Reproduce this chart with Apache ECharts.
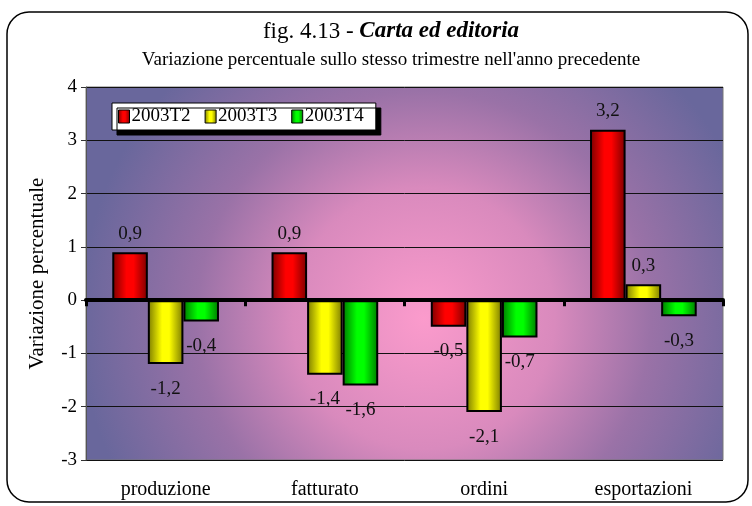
<!DOCTYPE html>
<html>
<head>
<meta charset="utf-8">
<script src="https://cdn.jsdelivr.net/npm/echarts@6/dist/echarts.min.js"></script>
<style>
  html, body { margin: 0; padding: 0; background: #fff; }
  #echarts_id { width: 752px; height: 506px; }
</style>
</head>
<body>
<div id="echarts_id"></div>
<script>
// dati
var categorie = ['produzione', 'fatturato', 'ordini', 'esportazioni'];
var t2 = [0.9, 0.9, -0.5, 3.2];
var t3 = [-1.2, -1.4, -2.1, 0.3];
var t4 = [-0.4, -1.6, -0.7, -0.3];
var nomiSerie = ['2003T2', '2003T3', '2003T4'];

var serif = '"Liberation Serif", serif';

var myChart = echarts.init(document.getElementById('echarts_id'));

function barra(scuro, chiaro) {
    return new echarts.graphic.LinearGradient(0, 0, 1, 0, [
        { offset: 0, color: scuro },
        { offset: 0.4, color: chiaro },
        { offset: 0.6, color: chiaro },
        { offset: 1, color: scuro }
    ]);
}

function etichetta(p) {
    return p.value.toFixed(1).replace('.', ',');
}

function serie(nome, dati, scuro, chiaro) {
    return {
        name: nome,
        type: 'bar',
        data: dati.map(function (v) {
            return {
                value: v,
                label: {
                    position: v >= 0 ? 'top' : 'bottom',
                    distance: v >= 0 ? 9 : 15
                }
            };
        }),
        barGap: '0%',
        barCategoryGap: '33%',
        itemStyle: {
            color: barra(scuro, chiaro),
            borderColor: '#000',
            borderWidth: 2
        },
        label: {
            show: true,
            formatter: etichetta,
            color: '#111',
            fontFamily: serif,
            fontSize: 19
        }
    };
}

option = {
    animation: false,
    backgroundColor: '#fff',
    color: ['#ff0000', '#ffff00', '#00ff00'],
    title: {
        text: '{n|fig. 4.13 - }{b|Carta ed editoria}',
        subtext: "Variazione percentuale sullo stesso trimestre nell'anno precedente",
        left: 386,
        textAlign: 'center',
        top: 15,
        itemGap: 8,
        textStyle: {
            rich: {
                n: { fontFamily: serif, fontSize: 23, fontWeight: 'normal', color: '#000' },
                b: { fontFamily: serif, fontSize: 23, fontWeight: 'bold', fontStyle: 'italic', color: '#000' }
            }
        },
        subtextStyle: {
            fontFamily: serif,
            fontSize: 19,
            color: '#000'
        }
    },
    legend: {
        data: nomiSerie,
        left: 112,
        top: 103,
        orient: 'horizontal',
        backgroundColor: '#fff',
        borderColor: '#000',
        borderWidth: 1,
        borderRadius: 0,
        padding: [4, 12, 4, 6],
        shadowColor: '#000',
        shadowBlur: 0,
        shadowOffsetX: 5,
        shadowOffsetY: 5,
        itemWidth: 11,
        itemHeight: 13,
        itemGap: 14,
        icon: 'rect',
        itemStyle: { borderColor: '#000', borderWidth: 1 },
        textStyle: { fontFamily: serif, fontSize: 19, color: '#000', padding: [0, 0, 0, -3] }
    },
    graphic: [{
        type: 'rect',
        shape: { x: 7, y: 12, width: 741, height: 490, r: 22 },
        style: { fill: 'none', stroke: '#000', lineWidth: 1.5 },
        z: -1
    }],
    grid: {
        left: 86,
        right: 29,
        top: 87,
        bottom: 46,
        show: true,
        borderColor: '#777',
        borderWidth: 1,
        backgroundColor: new echarts.graphic.RadialGradient(0.53, 0.62, 0.92, [
            { offset: 0, color: '#fb9bcc' },
            { offset: 0.38, color: '#d98abd' },
            { offset: 0.66, color: '#9a72a7' },
            { offset: 1, color: '#69679c' }
        ])
    },
    xAxis: [{
        type: 'category',
        data: categorie,
        axisLine: { show: false, onZero: false },
        axisTick: { show: false },
        axisLabel: {
            margin: 20,
            fontFamily: serif,
            fontSize: 20,
            color: '#000'
        }
    }, {
        type: 'category',
        data: categorie,
        position: 'bottom',
        z: 10,
        axisLine: { show: true, onZero: true, lineStyle: { color: '#000', width: 4 } },
        axisTick: { show: true, length: 6, lineStyle: { color: '#000', width: 3 } },
        axisLabel: { show: false }
    }],
    yAxis: {
        type: 'value',
        min: -3,
        max: 4,
        interval: 1,
        name: 'Variazione percentuale',
        nameLocation: 'middle',
        nameGap: 38,
        nameTextStyle: { fontFamily: serif, fontSize: 21, color: '#000' },
        axisLine: { show: true, lineStyle: { color: '#555', width: 1 } },
        axisTick: { show: true, length: 5, lineStyle: { color: '#333' } },
        splitLine: { lineStyle: { color: '#111', width: 1 } },
        axisLabel: { fontFamily: serif, fontSize: 19, color: '#000', margin: 9 }
    },
    series: [
        serie(nomiSerie[0], t2, '#7a0000', '#ff0000'),
        serie(nomiSerie[1], t3, '#7a7a00', '#ffff00'),
        serie(nomiSerie[2], t4, '#007a00', '#00ff00')
    ]
};

myChart.setOption(option);
</script>
</body>
</html>
